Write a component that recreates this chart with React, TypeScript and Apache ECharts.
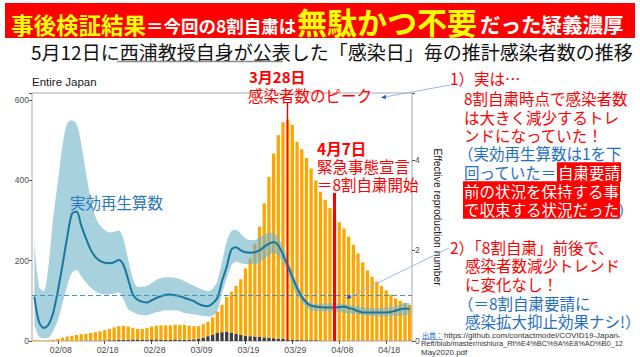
import React, { useEffect, useRef } from "react";
import * as echarts from "echarts";

// ---------- data ----------
const dayCount = 81;
const dates: string[] = Array.from({ length: dayCount }, (_, i) => {
  const d = new Date(2020, 1, 3 + i);
  return String(d.getMonth() + 1).padStart(2, "0") + "/" + String(d.getDate()).padStart(2, "0");
});
const tickLabels = ["02/08", "02/18", "02/28", "03/09", "03/19", "03/29", "04/08", "04/18"];

const totalCases = [
  2, 2, 1, 2, 3, 5, 8, 11, 13, 15,
  17, 18, 20, 22, 24, 27, 30, 34, 37, 38,
  36, 32, 30, 30, 32, 36, 38, 39, 39, 39,
  41, 40, 40, 38, 37, 37, 42, 48, 59, 73,
  90, 110, 123, 137, 154, 181, 206, 243, 285, 343,
  409, 467, 513, 545, 552, 538, 496, 478, 456, 430,
  400, 372, 352, 331, 314, 296, 280, 260, 240, 218,
  196, 176, 160, 148, 137, 126, 116, 106, 100, 95, 90,
];
const importedCases = [
  0, 0, 0, 0, 0, 0, 0, 0, 0, 0,
  1, 1, 1, 1, 1, 1, 2, 2, 3, 3,
  3, 4, 4, 3, 3, 4, 4, 3, 3, 3,
  4, 3, 3, 3, 4, 5, 8, 12, 16, 20,
  22, 23, 21, 18, 15, 13, 12, 11, 10, 9,
  8, 7, 6, 5, 4, 3, 3, 2, 2, 2,
  2, 1, 1, 1, 1, 1, 1, 1, 1, 1,
  1, 1, 1, 1, 1, 1, 1, 1, 1, 1, 1,
];
const reff = [
  0.98, 0.42, 0.29, 0.36, 0.62, 1.10, 1.68, 2.29, 2.81, 2.86,
  2.55, 2.27, 2.02, 1.86, 1.77, 1.73, 1.72, 1.74, 1.79, 1.68,
  1.36, 1.03, 0.91, 0.87, 0.85, 0.90, 0.95, 0.99, 1.02, 1.03,
  1.01, 0.99, 0.95, 0.92, 0.88, 0.82, 0.78, 0.77, 0.83, 0.95,
  1.32, 1.64, 2.02, 2.07, 2.00, 1.96, 1.95, 1.96, 2.00, 2.08,
  2.15, 2.19, 2.11, 1.91, 1.67, 1.41, 1.17, 0.98, 0.85, 0.78,
  0.76, 0.75, 0.74, 0.74, 0.74, 0.75, 0.76, 0.73, 0.70, 0.66,
  0.63, 0.63, 0.63, 0.63, 0.63, 0.63, 0.64, 0.67, 0.70, 0.72, 0.71,
];
const reffUpper = [
  2.2, 1.2, 1.10, 1.65, 2.70, 3.50, 4.32, 4.81, 4.88, 4.80,
  4.35, 3.72, 3.15, 2.75, 2.55, 2.45, 2.40, 2.41, 2.44, 2.25,
  1.80, 1.38, 1.20, 1.20, 1.22, 1.28, 1.35, 1.39, 1.41, 1.41,
  1.40, 1.37, 1.32, 1.27, 1.22, 1.17, 1.13, 1.10, 1.15, 1.32,
  1.75, 2.20, 2.43, 2.46, 2.37, 2.27, 2.23, 2.23, 2.29, 2.35,
  2.40, 2.40, 2.29, 2.08, 1.82, 1.55, 1.28, 1.05, 0.90, 0.84,
  0.82, 0.83, 0.83, 0.84, 0.84, 0.83, 0.82, 0.80, 0.78, 0.77,
  0.75, 0.74, 0.73, 0.72, 0.73, 0.74, 0.75, 0.77, 0.81, 0.84, 0.84,
];
const reffLower = [
  0.35, 0.10, 0.06, 0.07, 0.22, 0.46, 0.83, 1.22, 1.51, 1.57,
  1.43, 1.29, 1.18, 1.10, 1.05, 1.03, 1.03, 1.05, 1.07, 0.92,
  0.70, 0.64, 0.59, 0.57, 0.57, 0.60, 0.64, 0.66, 0.68, 0.68,
  0.68, 0.66, 0.62, 0.60, 0.59, 0.57, 0.55, 0.54, 0.56, 0.66,
  1.05, 1.38, 1.67, 1.75, 1.72, 1.70, 1.70, 1.70, 1.73, 1.81,
  1.90, 1.94, 1.88, 1.73, 1.49, 1.23, 1.00, 0.87, 0.75, 0.68,
  0.66, 0.66, 0.65, 0.65, 0.65, 0.64, 0.62, 0.61, 0.60, 0.58,
  0.57, 0.56, 0.55, 0.54, 0.54, 0.54, 0.55, 0.55, 0.56, 0.57, 0.57,
];
const reffThreshold = 1;
const peakDate = "03/28";
const emergencyDate = "04/07";
const peakLineTop = 593;
const emergencyLineTop = 369;

// ---------- styling ----------
const JP = "'Noto Sans CJK JP', sans-serif";
const LATIN = "'Liberation Sans', Arial, sans-serif";
const RED = "#ff0000";
const BLUE = "#1f6fc5";

function txt(x: number, y: number, text: string, fontSize: number, fill: string, extra: any = {}) {
  return {
    type: "text",
    x,
    y,
    z: 100,
    silent: true,
    style: { text, fontSize, fill, fontFamily: JP, verticalAlign: "middle", ...extra },
  };
}

function arrow(x1: number, y1: number, x2: number, y2: number) {
  const dx = x2 - x1, dy = y2 - y1;
  const L = Math.hypot(dx, dy);
  const ux = dx / L, uy = dy / L;
  const len = 5, w = 2.2;
  const bx = x2 - ux * len, by = y2 - uy * len;
  return [
    { type: "line", z: 100, silent: true, shape: { x1, y1, x2: bx, y2: by }, style: { stroke: "#8db0e6", lineWidth: 0.9 } },
    {
      type: "polygon", z: 100, silent: true,
      shape: { points: [[x2, y2], [bx - uy * w, by + ux * w], [bx + uy * w, by - ux * w]] },
      style: { fill: "#2456b8" },
    },
  ];
}

export default function App() {
  const ref = useRef<HTMLDivElement>(null);
  useEffect(() => {
    document.body.style.margin = "0";
    if (!ref.current) return;
    const chart = echarts.init(ref.current, undefined, { renderer: "svg" });
    const localCases = totalCases.map((t, i) => t - importedCases[i]);
    const bandWidth = reffUpper.map((u, i) => +(u - reffLower[i]).toFixed(3));
    const showTick = (_i: number, v: string) => tickLabels.includes(v);

    const graphic: any[] = [
      { type: "rect", z: 100, silent: true, shape: { x: 5, y: 3, width: 630, height: 35 }, style: { fill: RED } },
      txt(11, 35, "事後検証結果", 22.5, "#ffff00", { fontWeight: "bold", verticalAlign: "bottom" }),
      txt(146, 34, "＝今回の8割自粛は", 17.5, "#ffffff", { fontWeight: "bold", verticalAlign: "bottom" }),
      txt(297, 36, "無駄かつ不要", 30, "#ffff00", { fontWeight: "bold", verticalAlign: "bottom" }),
      txt(480, 34, "だった疑義濃厚", 20.5, "#ffffff", { fontWeight: "bold", verticalAlign: "bottom" }),
      txt(31, 51, "5月12日に西浦教授自身が公表した「感染日」毎の推計感染者数の推移", 19, "#111111"),
      { type: "line", z: 100, silent: true, shape: { x1: 117, y1: 61.5, x2: 283, y2: 61.5 }, style: { stroke: "#8c8c8c", lineWidth: 1.5 } },
      txt(32, 82, "Entire Japan", 11.5, "#1a1a1a", { fontFamily: LATIN }),

      txt(70, 202, "実効再生算数", 15.5, "#2a78bd"),
      txt(249, 76, "3月28日", 15, RED, { fontWeight: "bold" }),
      txt(248, 95, "感染者数のピーク", 15.5, RED),
      txt(317, 148, "4月7日", 15.5, RED, { fontWeight: "bold" }),
      txt(317, 166, "緊急事態宣言", 15.5, RED),
      txt(317, 184, "＝8割自粛開始", 15.5, RED),

      txt(450, 78, "1）実は…", 15.5, RED),
      txt(464, 98, "8割自粛時点で感染者数", 15.5, RED),
      txt(464, 117, "は大きく減少するトレ", 15.5, RED),
      txt(464, 135, "ンドになっていた！", 15.5, RED),
      txt(458, 153, "（実効再生算数は1を下", 15.5, BLUE),
      txt(464, 172, "回っていた＝", 15.5, BLUE),
      txt(557, 172, "自粛要請", 15.5, "#ffffff", { backgroundColor: RED, padding: [2, 1, 2, 1] }),
      txt(463, 191, "前の状況を保持する事", 15.5, "#ffffff", { backgroundColor: RED, padding: [2, 1, 2, 1] }),
      txt(463, 209, "で収束する状況だった", 15.5, "#ffffff", { backgroundColor: RED, padding: [2, 1, 2, 1] }),
      txt(618, 209, "）", 15.5, BLUE),

      txt(450, 247, "2）「8割自粛」前後で、", 15.5, RED),
      txt(465, 265, "感染者数減少トレンド", 15.5, RED),
      txt(465, 284, "に変化なし！", 15.5, RED),
      txt(458, 303, "（＝8割自粛要請に", 15.5, BLUE),
      txt(465, 321, "感染拡大抑止効果ナシ!）", 15.5, BLUE),

      txt(422, 335, "出典：", 7, "#2a6fcf"),
      { type: "line", z: 100, silent: true, shape: { x1: 422, y1: 339.5, x2: 443, y2: 339.5 }, style: { stroke: "#2a6fcf", lineWidth: 0.7 } },
      txt(444, 335, "https://github.com/contactmodel/COVID19-Japan-", 8, "#333333", { fontFamily: LATIN }),
      txt(421, 343.5, "Reff/blob/master/nishiura_Rt%E4%BC%9A%E8%AD%B0_12", 7.4, "#333333", { fontFamily: LATIN }),
      txt(421, 352, "May2020.pdf", 8, "#333333", { fontFamily: LATIN }),

      ...arrow(450, 85, 381, 97.7),
      ...arrow(449, 248, 346, 298.5),
    ];

    const option: any = {
      animation: false,
      backgroundColor: "#ffffff",
      grid: { left: 32, top: 93, width: 380, height: 248, show: true, borderColor: "#a8a8a8", borderWidth: 1, backgroundColor: "transparent" },
      xAxis: {
        type: "category",
        data: dates,
        boundaryGap: true,
        axisLine: { show: false },
        axisTick: { show: true, alignWithLabel: true, interval: showTick, length: 3, lineStyle: { color: "#555" } },
        axisLabel: { interval: showTick, fontSize: 8.8, color: "#4d4d4d", margin: 4, fontFamily: LATIN, padding: [0, 0, 0, 6] },
        splitLine: { show: false },
      },
      yAxis: [
        {
          type: "value", min: 0, max: 618, interval: 200, position: "left",
          axisLine: { show: false },
          axisTick: { show: true, length: 3, lineStyle: { color: "#555" } },
          axisLabel: { fontSize: 8.5, color: "#4d4d4d", margin: 3, fontFamily: LATIN, formatter: (v: number) => (v % 200 === 0 ? String(v) : "") },
          splitLine: { show: false },
        },
        {
          type: "value", min: 0, max: 5.48, interval: 2, position: "right",
          axisLine: { show: false },
          axisTick: { show: true, length: 3, lineStyle: { color: "#555" } },
          axisLabel: { fontSize: 8.5, color: "#4d4d4d", margin: 3, fontFamily: LATIN, formatter: (v: number) => (Math.abs(v % 2) < 1e-9 ? String(v) : "") },
          splitLine: { show: false },
          name: "Effective reproduction number",
          nameLocation: "middle",
          nameRotate: -90,
          nameGap: 20,
          nameTextStyle: { fontSize: 10.3, color: "#1a1a1a", fontFamily: LATIN },
        },
      ],
      series: [
        {
          name: "imported", type: "bar", stack: "cases", data: importedCases, barWidth: "70%",
          itemStyle: { color: "#3d3d3d" },
          markLine: {
            silent: true, symbol: ["none", "none"], label: { show: false },
            data: [
              [{ coord: [peakDate, 0], lineStyle: { color: RED, width: 1.4, type: "solid" } }, { coord: [peakDate, peakLineTop] }],
              [{ coord: [emergencyDate, 0], lineStyle: { color: RED, width: 3, type: "solid" } }, { coord: [emergencyDate, emergencyLineTop] }],
            ],
          },
        },
        { name: "local", type: "bar", stack: "cases", data: localCases, barWidth: "70%", itemStyle: { color: "#FFA500" } },
        {
          name: "lower", type: "line", yAxisIndex: 1, stack: "band", data: reffLower, symbol: "none", smooth: 0.3,
          lineStyle: { opacity: 0 }, silent: true,
        },
        {
          name: "band", type: "line", yAxisIndex: 1, stack: "band", data: bandWidth, symbol: "none", smooth: 0.3,
          lineStyle: { opacity: 0 }, areaStyle: { color: "rgba(110,178,200,0.6)", opacity: 1 }, silent: true,
        },
        {
          name: "reff", type: "line", yAxisIndex: 1, data: reff, symbol: "none", smooth: 0.3,
          lineStyle: { color: "#17789b", width: 2 },
          markLine: {
            silent: true, symbol: ["none", "none"], label: { show: false },
            lineStyle: { color: "#3f97c0", type: [5, 3], width: 1.2 },
            data: [{ yAxis: reffThreshold }],
          },
        },
      ],
      graphic,
    };
    chart.setOption(option);
    return () => chart.dispose();
  }, []);
  return <div ref={ref} style={{ width: 640, height: 357 }} />;
}
